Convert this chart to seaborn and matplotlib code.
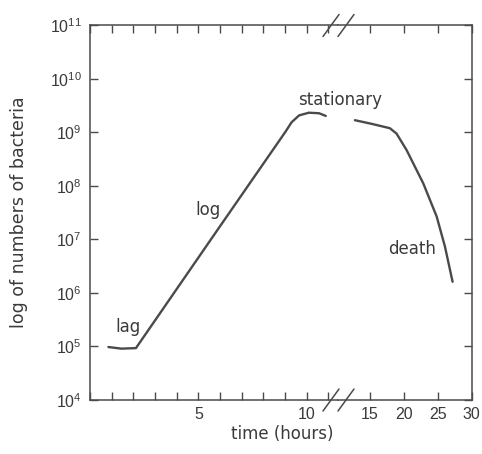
import numpy as np
import pandas as pd
import matplotlib
matplotlib.use("Agg")
import matplotlib.pyplot as plt
import seaborn as sns
from matplotlib.lines import Line2D
from matplotlib.ticker import LogLocator, LogFormatterSciNotation, MultipleLocator, FixedLocator, NullLocator

# ---- data ----
hours_growth = [0.85, 1.45, 2.12, 5.97, 9.03, 9.3, 9.65, 10.1, 10.57, 10.88]
log_growth   = [4.99, 4.96, 4.97, 7.23, 9.02, 9.19, 9.32, 9.37, 9.36, 9.31]
hours_decline = [12.76, 15.3, 17.93, 18.91, 20.4, 22.85, 24.83, 26.05, 27.18]
log_decline   = [9.23, 9.16, 9.08, 8.98, 8.67, 8.05, 7.43, 6.87, 6.21]
left_xticks = [5, 10]
right_xticks = [15, 20, 25, 30]
phase_labels = ["lag", "log", "stationary", "death"]

df_g = pd.DataFrame({"hours": hours_growth, "count": np.power(10.0, log_growth)})
df_d = pd.DataFrame({"hours": hours_decline, "count": np.power(10.0, log_decline)})

sns.set_style("ticks")
plt.rcParams["font.family"] = ["Liberation Sans", "DejaVu Sans"]
plt.rcParams["mathtext.fontset"] = "custom"
plt.rcParams["mathtext.rm"] = "Liberation Sans"

GREY = "#4a4a4a"
TXT = "#3a3a3a"
LBL = dict(fontsize=12, color=TXT, family="DejaVu Sans")
W, H = 482, 454
fig = plt.figure(figsize=(W / 100, H / 100), dpi=100)

def fx(px):
    return px / W

def fy(py):
    return 1 - py / H

ybot, ytop = 400, 25.5
brk = 338
axL = fig.add_axes([fx(90), fy(ybot), fx(brk) - fx(90), (ybot - ytop) / H])
axR = fig.add_axes([fx(brk), fy(ybot), fx(471.7) - fx(brk), (ybot - ytop) / H])

sns.lineplot(data=df_g, x="hours", y="count", ax=axL, color=GREY, lw=1.7,
             sort=False, estimator=None)
sns.lineplot(data=df_d, x="hours", y="count", ax=axR, color=GREY, lw=1.7,
             sort=False, estimator=None)

for ax in (axL, axR):
    ax.set_yscale("log")
    ax.set_ylim(1e4, 1e11)
    ax.yaxis.set_major_locator(LogLocator(base=10, numticks=20))
    ax.yaxis.set_minor_locator(NullLocator())
    ax.set_xlabel("")
    ax.set_ylabel("")
    for s in ax.spines.values():
        s.set_color(GREY)
        s.set_linewidth(1.1)
    ax.tick_params(which="both", direction="in", length=6, width=1.0,
                   color=GREY, labelcolor=TXT, labelsize=11.5, top=True)

axL.set_xlim(0, (brk - 90) / 21.67)
axL.xaxis.set_major_locator(FixedLocator(left_xticks))
axL.xaxis.set_minor_locator(MultipleLocator(1))
axL.spines["right"].set_visible(False)
axL.tick_params(axis="y", left=True, right=False, pad=6)
axL.tick_params(axis="x", pad=5)
axL.yaxis.set_major_formatter(LogFormatterSciNotation())

axR.set_xlim(15 - (370 - brk) / 6.77, 30)
axR.xaxis.set_major_locator(FixedLocator(right_xticks))
axR.xaxis.set_minor_locator(NullLocator())
axR.spines["left"].set_visible(False)
axR.tick_params(axis="y", left=False, right=True, labelleft=False, labelright=False)
axR.tick_params(axis="x", pad=5)

# phase annotations
axL.text(1.76, 10 ** 5.36, phase_labels[0], ha="center", va="center", **LBL)
axL.text(5.45, 10 ** 7.55, phase_labels[1], ha="center", va="center", **LBL)
fig.text(fx(340), fy(100), phase_labels[2], ha="center", va="center", **LBL)
axR.text(21.25, 10 ** 6.82, phase_labels[3], ha="center", va="center", **LBL)

# axis labels
fig.text(fx(282), fy(434), "time (hours)", ha="center", va="center", **LBL)
fig.text(fx(19.5), fy(212.5), "log of numbers of bacteria", ha="center", va="center",
         rotation=90, fontsize=12.5, color=TXT, family="DejaVu Sans")

# break marks
for yy in (ytop, ybot):
    for cx in (331, 346):
        fig.add_artist(Line2D([fx(cx - 8), fx(cx + 8)], [fy(yy + 11), fy(yy - 11)],
                              transform=fig.transFigure, color=GREY, lw=1.1))

fig.savefig("out.png", dpi=100, facecolor="white")
